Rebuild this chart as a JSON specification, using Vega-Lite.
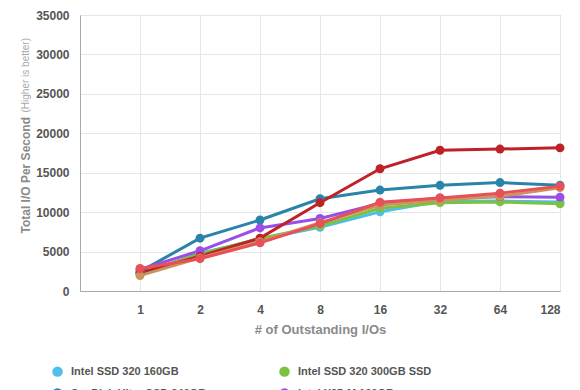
{
  "$schema": "https://vega.github.io/schema/vega-lite/v6.json",
  "width": 480,
  "height": 276,
  "autosize": "none",
  "padding": {"left": 80, "top": 15, "right": 20, "bottom": 99},
  "background": "white",
  "config": {
    "font": "Liberation Sans",
    "view": {"stroke": "#bbbbbb", "strokeWidth": 1},
    "axis": {"gridColor": "#e6e6e6", "labelColor": "#555555", "labelFont": "Liberation Sans", "labelFontWeight": "bold", "labelFontSize": 12, "titleColor": "#8a8a8a", "titleFont": "Liberation Sans"},
    "legend": {"orient": "none", "legendX": -28, "legendY": 351, "columns": 2, "direction": "horizontal", "title": null, "symbolType": "circle", "symbolSize": 110, "symbolStrokeWidth": 0, "labelFontSize": 11, "labelFontWeight": "bold", "labelColor": "#555555", "labelFont": "Liberation Sans", "labelLimit": 220, "columnPadding": 72, "rowPadding": 10, "symbolOffset": 0, "labelOffset": 8, "gridAlign": "each"}
  },
  "data": {"values": [
    {"s": "Intel SSD 320 160GB", "q": 1, "v": 2160}, {"s": "Intel SSD 320 160GB", "q": 2, "v": 4780}, {"s": "Intel SSD 320 160GB", "q": 4, "v": 6550}, {"s": "Intel SSD 320 160GB", "q": 8, "v": 8070}, {"s": "Intel SSD 320 160GB", "q": 16, "v": 10050}, {"s": "Intel SSD 320 160GB", "q": 32, "v": 11370}, {"s": "Intel SSD 320 160GB", "q": 64, "v": 11400}, {"s": "Intel SSD 320 160GB", "q": 128, "v": 11300},
    {"s": "Intel SSD 320 300GB SSD", "q": 1, "v": 2300}, {"s": "Intel SSD 320 300GB SSD", "q": 2, "v": 4700}, {"s": "Intel SSD 320 300GB SSD", "q": 4, "v": 6650}, {"s": "Intel SSD 320 300GB SSD", "q": 8, "v": 8250}, {"s": "Intel SSD 320 300GB SSD", "q": 16, "v": 10500}, {"s": "Intel SSD 320 300GB SSD", "q": 32, "v": 11200}, {"s": "Intel SSD 320 300GB SSD", "q": 64, "v": 11300}, {"s": "Intel SSD 320 300GB SSD", "q": 128, "v": 11050},
    {"s": "SanDisk Ultra SSD 240GB", "q": 1, "v": 2450}, {"s": "SanDisk Ultra SSD 240GB", "q": 2, "v": 6700}, {"s": "SanDisk Ultra SSD 240GB", "q": 4, "v": 9000}, {"s": "SanDisk Ultra SSD 240GB", "q": 8, "v": 11700}, {"s": "SanDisk Ultra SSD 240GB", "q": 16, "v": 12800}, {"s": "SanDisk Ultra SSD 240GB", "q": 32, "v": 13400}, {"s": "SanDisk Ultra SSD 240GB", "q": 64, "v": 13750}, {"s": "SanDisk Ultra SSD 240GB", "q": 128, "v": 13400},
    {"s": "Intel X25-M 160GB", "q": 1, "v": 2750}, {"s": "Intel X25-M 160GB", "q": 2, "v": 5100}, {"s": "Intel X25-M 160GB", "q": 4, "v": 8000}, {"s": "Intel X25-M 160GB", "q": 8, "v": 9200}, {"s": "Intel X25-M 160GB", "q": 16, "v": 11100}, {"s": "Intel X25-M 160GB", "q": 32, "v": 11800}, {"s": "Intel X25-M 160GB", "q": 64, "v": 11950}, {"s": "Intel X25-M 160GB", "q": 128, "v": 11900},
    {"s": "OCZ Vertex 3 240GB", "q": 1, "v": 2300}, {"s": "OCZ Vertex 3 240GB", "q": 2, "v": 4400}, {"s": "OCZ Vertex 3 240GB", "q": 4, "v": 6700}, {"s": "OCZ Vertex 3 240GB", "q": 8, "v": 11200}, {"s": "OCZ Vertex 3 240GB", "q": 16, "v": 15500}, {"s": "OCZ Vertex 3 240GB", "q": 32, "v": 17850}, {"s": "OCZ Vertex 3 240GB", "q": 64, "v": 18000}, {"s": "OCZ Vertex 3 240GB", "q": 128, "v": 18150},
    {"s": "Samsung 470 256GB", "q": 1, "v": 1950}, {"s": "Samsung 470 256GB", "q": 2, "v": 4200}, {"s": "Samsung 470 256GB", "q": 4, "v": 6250}, {"s": "Samsung 470 256GB", "q": 8, "v": 8650}, {"s": "Samsung 470 256GB", "q": 16, "v": 10900}, {"s": "Samsung 470 256GB", "q": 32, "v": 11500}, {"s": "Samsung 470 256GB", "q": 64, "v": 12000}, {"s": "Samsung 470 256GB", "q": 128, "v": 13100},
    {"s": "Crucial m4 256GB", "q": 1, "v": 2850}, {"s": "Crucial m4 256GB", "q": 2, "v": 4100}, {"s": "Crucial m4 256GB", "q": 4, "v": 6100}, {"s": "Crucial m4 256GB", "q": 8, "v": 8550}, {"s": "Crucial m4 256GB", "q": 16, "v": 11250}, {"s": "Crucial m4 256GB", "q": 32, "v": 11800}, {"s": "Crucial m4 256GB", "q": 64, "v": 12400}, {"s": "Crucial m4 256GB", "q": 128, "v": 13300}
  ]},
  "resolve": {"scale": {"y": "shared"}, "axis": {"y": "independent"}},
  "layer": [
    {
      "mark": {"type": "line", "strokeWidth": 3},
      "encoding": {
        "x": {"field": "q", "type": "quantitative", "scale": {"type": "log", "base": 2, "domain": [0.5, 128], "nice": false},
              "axis": {"values": [1, 2, 4, 8, 16, 32, 64, 128], "title": "# of Outstanding I/Os", "titleFontSize": 13, "titleFontWeight": "bold", "titlePadding": 8, "labelPadding": 13, "ticks": false, "domainColor": "#aaaaaa", "gridColor": "#e6e6e6"}},
        "y": {"field": "v", "type": "quantitative", "scale": {"domain": [0, 35000], "nice": false},
              "axis": {"values": [0, 5000, 10000, 15000, 20000, 25000, 30000, 35000], "title": "Total I/O Per Second", "titleFontSize": 12, "titleFontWeight": "bold", "titleAnchor": "start", "titleAlign": "left", "titleBaseline": "middle", "titleAngle": -90, "titleX": -55, "titleY": 218, "ticks": false, "labelPadding": 11, "domainColor": "#aaaaaa", "format": "d"}},
        "color": {"field": "s", "type": "nominal",
                  "scale": {"domain": ["Intel SSD 320 160GB", "Intel SSD 320 300GB SSD", "SanDisk Ultra SSD 240GB", "Intel X25-M 160GB", "OCZ Vertex 3 240GB", "Samsung 470 256GB", "Crucial m4 256GB"],
                            "range": ["#4dbfea", "#7cc242", "#2a84a9", "#9a4ee8", "#be2227", "#c9955c", "#e84f57"]}},
        "order": {"field": "q", "type": "quantitative"}
      }
    },
    {
      "mark": {"type": "point", "filled": true, "size": 80, "opacity": 1},
      "encoding": {
        "x": {"field": "q", "type": "quantitative"},
        "y": {"field": "v", "type": "quantitative",
              "axis": {"orient": "left", "labels": false, "ticks": false, "domain": false, "grid": false, "title": "(Higher is better)", "titleFontSize": 10, "titleFontWeight": "normal", "titleColor": "#aaaaaa", "titleAnchor": "start", "titleAlign": "left", "titleBaseline": "middle", "titleAngle": -90, "titleX": -55, "titleY": 97}},
        "color": {"field": "s", "type": "nominal"}
      }
    }
  ]
}
